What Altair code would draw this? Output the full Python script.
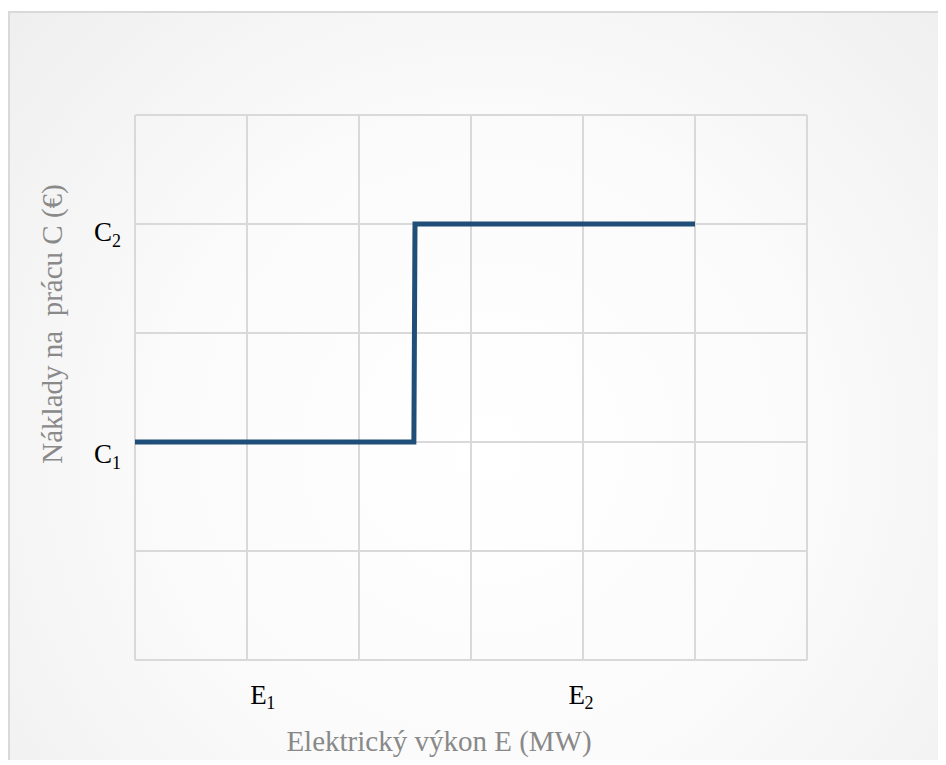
import altair as alt
import pandas as pd

# step line data
line_x = [0, 2.49, 2.5, 5]
line_y = [2, 2, 4, 4]
line_order = [0, 1, 2, 3]

# grid positions
x_grid = [0, 1, 2, 3, 4, 5, 6]
y_grid = [0, 1, 2, 3, 4, 5]

# tick label texts and their positions
x_label_main = ["E", "E"]
x_label_sub = ["1", "2"]
x_label_pos = [1.03, 3.87]

y_label_main = ["C", "C"]
y_label_sub = ["1", "2"]
y_label_pos = [1.93, 3.96]

x_title = ["Elektrický výkon E (MW)"]
y_title = ["Náklady na\u00a0 prácu C (€)"]

W, H = 672, 545
SERIF = "Liberation Serif"
LINE_COLOR = "#1f4e79"
GRID_COLOR = "#d9d9d9"
TITLE_COLOR = "#898989"

line_df = pd.DataFrame({"x": line_x, "y": line_y, "o": line_order})
xg_df = pd.DataFrame({"x": x_grid})
yg_df = pd.DataFrame({"y": y_grid})
xl_df = pd.DataFrame({"m": x_label_main, "s": x_label_sub, "x": x_label_pos})
yl_df = pd.DataFrame({"m": y_label_main, "s": y_label_sub, "y": y_label_pos})
xt_df = pd.DataFrame({"t": x_title})
yt_df = pd.DataFrame({"t": y_title})
bg_df = pd.DataFrame({"a": [0]})

xscale = alt.Scale(domain=[0, 6], nice=False, zero=False)
yscale = alt.Scale(domain=[0, 5], nice=False, zero=False)

bg = alt.Chart(bg_df).mark_rect(
    fill={"gradient": "radial",
          "x1": 0.5, "y1": 0.55, "x2": 0.5, "y2": 0.55, "r1": 0, "r2": 0.75,
          "stops": [{"offset": 0, "color": "#ffffff"},
                    {"offset": 0.45, "color": "#fbfbfb"},
                    {"offset": 1, "color": "#ececec"}]},
    stroke=GRID_COLOR, strokeWidth=2
).encode(x=alt.value(-126), x2=alt.value(W + 160), y=alt.value(-103), y2=alt.value(H + 130))

xgrid = alt.Chart(xg_df).mark_rule(color=GRID_COLOR, strokeWidth=2).encode(
    x=alt.X("x:Q", scale=xscale, axis=None), y=alt.value(0), y2=alt.value(H))
ygrid = alt.Chart(yg_df).mark_rule(color=GRID_COLOR, strokeWidth=2).encode(
    y=alt.Y("y:Q", scale=yscale, axis=None), x=alt.value(0), x2=alt.value(W))

line = alt.Chart(line_df).mark_line(color=LINE_COLOR, strokeWidth=5, strokeJoin="miter").encode(
    x=alt.X("x:Q", scale=xscale),
    y=alt.Y("y:Q", scale=yscale),
    order="o:Q",
)

xl_main = alt.Chart(xl_df).mark_text(font=SERIF, fontSize=27, color="#000000",
                                      align="left", baseline="alphabetic").encode(
    x=alt.X("x:Q", scale=xscale), y=alt.value(H + 44), text="m:N")
xl_sub = alt.Chart(xl_df).mark_text(font=SERIF, fontSize=18, color="#000000",
                                     align="left", baseline="alphabetic", dx=16).encode(
    x=alt.X("x:Q", scale=xscale), y=alt.value(H + 49), text="s:N")

yl_main = alt.Chart(yl_df).mark_text(font=SERIF, fontSize=27, color="#000000",
                                      align="left", baseline="alphabetic", dy=13).encode(
    y=alt.Y("y:Q", scale=yscale), x=alt.value(-41), text="m:N")
yl_sub = alt.Chart(yl_df).mark_text(font=SERIF, fontSize=18, color="#000000",
                                     align="left", baseline="alphabetic", dy=19).encode(
    y=alt.Y("y:Q", scale=yscale), x=alt.value(-23), text="s:N")

xt = alt.Chart(xt_df).mark_text(font=SERIF, fontSize=29, color=TITLE_COLOR,
                                 align="center", baseline="alphabetic").encode(
    x=alt.value(304), y=alt.value(H + 91), text="t:N")
yt = alt.Chart(yt_df).mark_text(font=SERIF, fontSize=29, color=TITLE_COLOR, angle=270,
                                 align="center", baseline="alphabetic").encode(
    x=alt.value(-73), y=alt.value(209), text="t:N")

chart = alt.layer(bg, xgrid, ygrid, line, xl_main, xl_sub, yl_main, yl_sub, xt, yt).properties(
    width=W, height=H,
    autosize=alt.AutoSizeParams(type="none"),
    padding={"left": 127, "top": 107, "right": 131, "bottom": 100},
    background="white",
).configure_view(stroke=None)

chart.save("out.html", embed_options={"renderer": "svg", "actions": False})
